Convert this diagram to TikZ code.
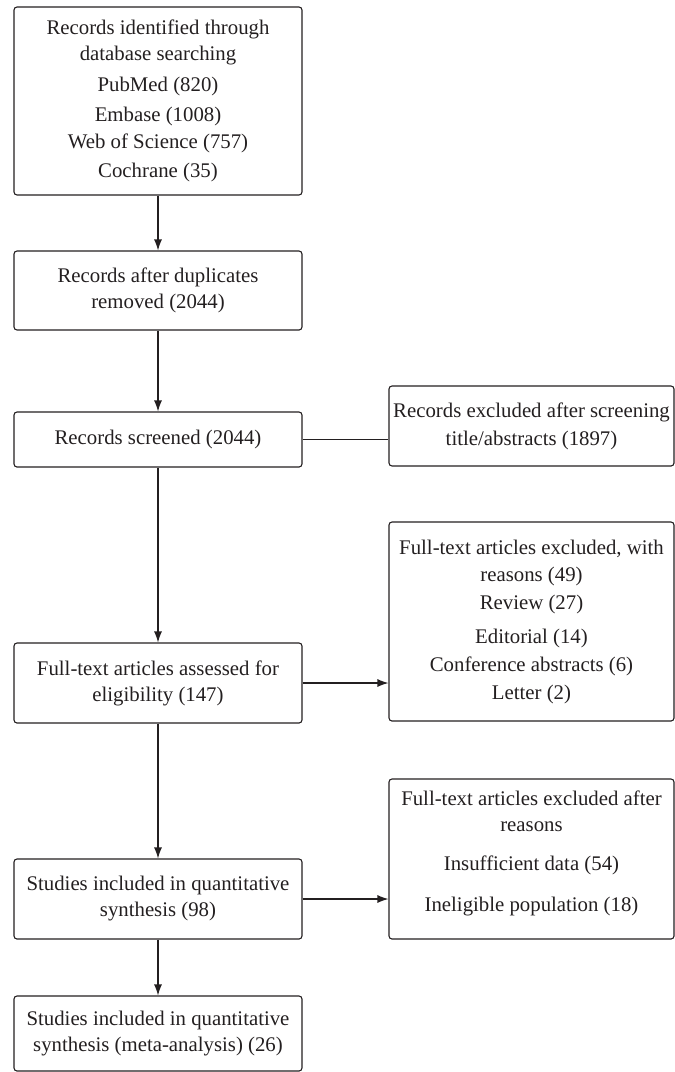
\documentclass[tikz,border=0pt]{standalone}
\usepackage{fontspec}
\setmainfont{Liberation Serif}
\usetikzlibrary{arrows.meta}
\definecolor{ink}{HTML}{231F20}
\begin{document}
\begin{tikzpicture}[x=1pt,y=-1pt,
  box/.style={draw=ink, text=ink, rounded corners=3pt, line width=1.1pt, align=center, inner sep=0pt,
    font=\fontsize{20.8}{26}\selectfont},
  lbox/.style={box, minimum width=288pt},
  rbox/.style={box, minimum width=285pt},
  arr/.style={draw=ink, line width=1.1pt, -{Latex[length=11pt,width=8pt]}},
  conn/.style={draw=ink, line width=1.1pt}]
\useasboundingbox (0,0) rectangle (675,1072);

\node[lbox, minimum height=188pt] (a) at (158,101)
  {Records identified through\\ database searching\\[5pt] PubMed (820)\\[4pt] Embase (1008)\\[1pt] Web of Science (757)\\[3pt] Cochrane (35)};
\node[lbox, minimum height=79pt] (b) at (158,290.5)
  {Records after duplicates\\ removed (2044)};
\node[lbox, minimum height=55pt] (c) at (158,439.5)
  {Records screened (2044)};
\node[rbox, minimum height=80pt] (r1) at (531.5,426)
  {Records excluded after screening\\[2pt] title/abstracts (1897)};
\node[lbox, minimum height=80pt] (d) at (158,683)
  {Full-text articles assessed for\\ eligibility (147)};
\node[rbox, minimum height=199pt] (r2) at (531.5,621.5)
  {Full-text articles excluded, with\\[1pt] reasons (49)\\[2pt] Review (27)\\[8pt] Editorial (14)\\[2pt] Conference abstracts (6)\\[2pt] Letter (2)};
\node[lbox, minimum height=80pt] (e) at (158,899)
  {Studies included in quantitative\\ synthesis (98)};
\node[rbox, minimum height=160pt] (r3) at (531.5,859)
  {Full-text articles excluded after\\ reasons\\[13pt] Insufficient data (54)\\[15pt] Ineligible population (18)\rule[-16.5pt]{0pt}{1pt}};
\node[lbox, minimum height=75pt] (f) at (158,1033.5)
  {Studies included in quantitative\\ synthesis (meta-analysis) (26)};

\draw[arr] (a) -- (b);
\draw[arr] (b) -- (c);
\draw[arr] (c) -- (d);
\draw[arr] (d) -- (e);
\draw[arr] (e) -- (f);
\draw[conn] (c.east) -- (c.east -| r1.west);
\draw[arr] (d.east) -- (d.east -| r2.west);
\draw[arr] (e.east) -- (e.east -| r3.west);
\end{tikzpicture}
\end{document}
